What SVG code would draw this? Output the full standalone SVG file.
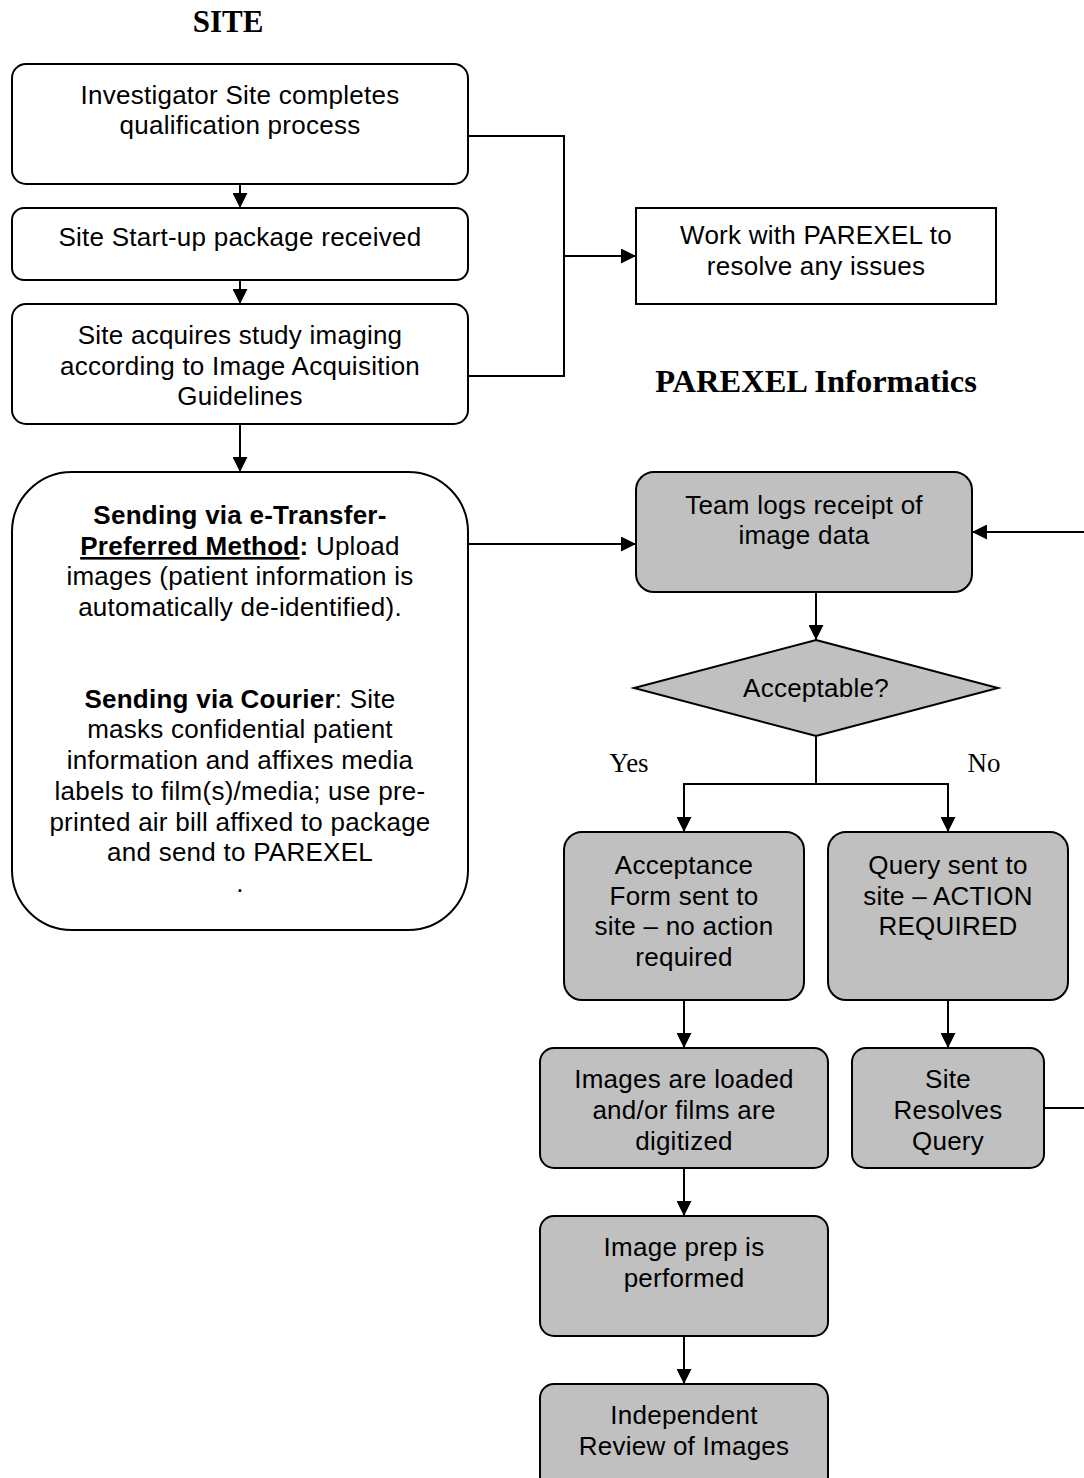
<svg xmlns="http://www.w3.org/2000/svg" width="1084" height="1478" viewBox="0 0 1084 1478">
<style>
.box{fill:#fff;stroke:#000;stroke-width:2}
.g{fill:#c0c0c0;stroke:#000;stroke-width:2}
.t{font-family:"Liberation Sans",Arial,sans-serif;font-size:26px;letter-spacing:0.25px;text-anchor:middle;fill:#000}
.b{font-weight:bold}
.h{font-family:"Liberation Serif","Times New Roman",serif;font-size:31px;font-weight:bold;text-anchor:middle}
.h2{font-size:32.5px}
.yn{font-family:"Liberation Serif","Times New Roman",serif;font-size:27px;text-anchor:middle}
.c{fill:none;stroke:#000;stroke-width:2}
</style>
<defs>
<marker id="ah" markerUnits="userSpaceOnUse" markerWidth="15" markerHeight="15" viewBox="0 0 15 15" refX="15" refY="7.5" orient="auto">
<path d="M0,0 L15,7.5 L0,15 Z" fill="#000"/>
</marker>
</defs>
<rect width="1084" height="1478" fill="#fff"/>
<text class="h" x="228" y="32">SITE</text>
<text class="h h2" x="816" y="392">PAREXEL Informatics</text>
<g id="connectors">
<path class="c" d="M240,184 V208" marker-end="url(#ah)"/>
<path class="c" d="M240,280 V304" marker-end="url(#ah)"/>
<path class="c" d="M240,424 V472" marker-end="url(#ah)"/>
<path class="c" d="M468,136 H564 V376 H468"/>
<path class="c" d="M564,256 H636" marker-end="url(#ah)"/>
<path class="c" d="M468,544 H636" marker-end="url(#ah)"/>
<path class="c" d="M816,592 V640" marker-end="url(#ah)"/>
<path class="c" d="M816,736 V784"/>
<path class="c" d="M684,832 V784 H948 V832" marker-end="url(#ah)"/>
<path class="c" d="M816,784 H684 V832" marker-end="url(#ah)"/>
<path class="c" d="M684,1000 V1048" marker-end="url(#ah)"/>
<path class="c" d="M948,1000 V1048" marker-end="url(#ah)"/>
<path class="c" d="M684,1168 V1216" marker-end="url(#ah)"/>
<path class="c" d="M684,1336 V1384" marker-end="url(#ah)"/>
<path class="c" d="M1044,1108 H1092 V532 H972" marker-end="url(#ah)"/>
<text class="yn" x="629" y="772">Yes</text>
<text class="yn" x="984" y="772">No</text>
</g>
<g id="n1"><rect class="box" x="12" y="64" width="456" height="120" rx="14"/>
<text class="t" x="240" y="104">Investigator Site completes</text>
<text class="t" x="240" y="134">qualification process</text></g>
<g id="n2"><rect class="box" x="12" y="208" width="456" height="72" rx="12"/>
<text class="t" x="240" y="246">Site Start-up package received</text></g>
<g id="n3"><rect class="box" x="12" y="304" width="456" height="120" rx="14"/>
<text class="t" x="240" y="344">Site acquires study imaging</text>
<text class="t" x="240" y="375">according to Image Acquisition</text>
<text class="t" x="240" y="405">Guidelines</text></g>
<g id="n4"><rect class="box" x="636" y="208" width="360" height="96"/>
<text class="t" x="816" y="244">Work with PAREXEL to</text>
<text class="t" x="816" y="275">resolve any issues</text></g>
<g id="n5"><rect class="box" x="12" y="472" width="456" height="458" rx="60"/>
<text class="t b" x="240" y="524">Sending via e-Transfer-</text>
<text class="t" x="240" y="555"><tspan class="b" text-decoration="underline">Preferred Method</tspan><tspan class="b">:</tspan> Upload</text>
<text class="t" x="240" y="585">images (patient information is</text>
<text class="t" x="240" y="616">automatically de-identified).</text>
<text class="t" x="240" y="708"><tspan class="b">Sending via Courier</tspan>: Site</text>
<text class="t" x="240" y="738">masks confidential patient</text>
<text class="t" x="240" y="769">information and affixes media</text>
<text class="t" x="240" y="800">labels to film(s)/media; use pre-</text>
<text class="t" x="240" y="831">printed air bill affixed to package</text>
<text class="t" x="240" y="861">and send to PAREXEL</text>
<text class="t" x="240" y="892">.</text></g>
<g id="n6"><rect class="g" x="636" y="472" width="336" height="120" rx="18"/>
<text class="t" x="804" y="514">Team logs receipt of</text>
<text class="t" x="804" y="544">image data</text></g>
<g id="n7"><polygon class="g" points="816,640 998,688 816,736 634,688"/>
<text class="t" x="816" y="697">Acceptable?</text></g>
<g id="n8"><rect class="g" x="564" y="832" width="240" height="168" rx="18"/>
<text class="t" x="684" y="874">Acceptance</text>
<text class="t" x="684" y="905">Form sent to</text>
<text class="t" x="684" y="935">site – no action</text>
<text class="t" x="684" y="966">required</text></g>
<g id="n9"><rect class="g" x="828" y="832" width="240" height="168" rx="18"/>
<text class="t" x="948" y="874">Query sent to</text>
<text class="t" x="948" y="905">site – ACTION</text>
<text class="t" x="948" y="935">REQUIRED</text></g>
<g id="n10"><rect class="g" x="540" y="1048" width="288" height="120" rx="14"/>
<text class="t" x="684" y="1088">Images are loaded</text>
<text class="t" x="684" y="1119">and/or films are</text>
<text class="t" x="684" y="1150">digitized</text></g>
<g id="n11"><rect class="g" x="852" y="1048" width="192" height="120" rx="14"/>
<text class="t" x="948" y="1088">Site</text>
<text class="t" x="948" y="1119">Resolves</text>
<text class="t" x="948" y="1150">Query</text></g>
<g id="n12"><rect class="g" x="540" y="1216" width="288" height="120" rx="14"/>
<text class="t" x="684" y="1256">Image prep is</text>
<text class="t" x="684" y="1287">performed</text></g>
<g id="n13"><rect class="g" x="540" y="1384" width="288" height="120" rx="14"/>
<text class="t" x="684" y="1424">Independent</text>
<text class="t" x="684" y="1455">Review of Images</text></g>
</svg>
